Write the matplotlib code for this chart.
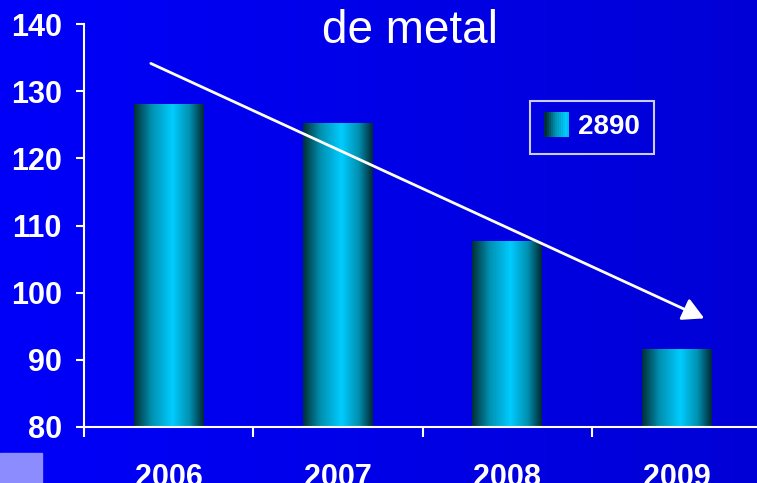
import numpy as np
import matplotlib.pyplot as plt
from matplotlib.patches import Rectangle
from matplotlib.legend_handler import HandlerPatch
from matplotlib.colors import LinearSegmentedColormap

plt.rcParams['font.family'] = ['Liberation Sans', 'DejaVu Sans']

# === Data ===
years = ["2006", "2007", "2008", "2009"]
values = [128.0, 125.2, 107.6, 91.6]
series_name = "2890"
title = "de metal"

# gradient used for the cylinder-like bars
bar_cmap = LinearSegmentedColormap.from_list(
    "cyl", [(0.0, "#003038"), (0.25, "#0090b0"), (0.55, "#00ccff"),
            (0.8, "#0090b0"), (1.0, "#002a35")])

fig = plt.figure(figsize=(7.57, 4.83), dpi=100)

# blue background gradient
bg = fig.add_axes([0, 0, 1, 1], zorder=-10)
bg.imshow(np.linspace(0, 1, 256).reshape(1, -1), aspect='auto', extent=(0, 1, 0, 1),
          cmap=LinearSegmentedColormap.from_list("bg", ["#0000fa", "#0000d6"]))
bg.axis('off')
# little pale tile in the corner
bg.add_patch(Rectangle((0, 0), 42 / 757, 30 / 483, color="#8c8cff", transform=bg.transAxes))

ax = fig.add_axes([84 / 757, 56 / 483, 677 / 757, 403 / 483])
ax.patch.set_alpha(0)

x = np.arange(len(years))
bars = ax.bar(x, [v - 80 for v in values], bottom=80, width=0.41, color="none")
grad = np.linspace(0, 1, 200).reshape(1, -1)
for b in bars:
    x0, y0 = b.get_x(), b.get_y()
    ax.imshow(grad, cmap=bar_cmap, aspect='auto', zorder=2,
              extent=(x0, x0 + b.get_width(), y0, y0 + b.get_height()))

ax.set_xlim(-0.5, 3.5)
ax.set_ylim(80, 140)
ax.set_yticks(range(80, 141, 10))

ax.set_xticks(x)
ax.set_xticklabels(years)
ax.set_xticks(np.arange(-0.5, 4, 1), minor=True)
ax.tick_params(axis='x', which='major', length=0, pad=26)
ax.tick_params(axis='x', which='minor', length=7, width=1.5, color='white', direction='out')
ax.tick_params(axis='y', length=6, width=1.5, color='white', pad=10)
for lab in ax.get_xticklabels() + ax.get_yticklabels():
    lab.set_color('white')
    lab.set_fontweight('bold')
    lab.set_fontsize(22)

for s in ['top', 'right']:
    ax.spines[s].set_visible(False)
for s in ['left', 'bottom']:
    ax.spines[s].set_color('white')
    ax.spines[s].set_linewidth(1.5)

# trend arrow
ax.annotate("", xy=(3.18, 96.0), xytext=(-0.12, 134.3),
            arrowprops=dict(arrowstyle="-|>,head_length=1.3,head_width=0.7",
                            color='white', lw=2), zorder=5)

fig.text(410 / 757, 1 - 31 / 483, title, color='white', fontsize=33,
         ha='center', va='center')


class GradientHandler(HandlerPatch):
    def create_artists(self, legend, orig_handle, xdescent, ydescent, width, height, fontsize, trans):
        n = 12
        w = 18.0
        h = 18.0
        x0 = -xdescent + width - w
        y0 = -ydescent + (height - h) / 2
        arts = []
        for i in range(n):
            r = Rectangle((x0 + i * w / n, y0), w / n, h,
                          facecolor=bar_cmap(i / (n - 1) * 0.6), edgecolor='none', transform=trans)
            arts.append(r)
        return arts


h = Rectangle((0, 0), 1, 1)
leg = ax.legend([h], [series_name], handler_map={Rectangle: GradientHandler()},
                loc='upper left', bbox_to_anchor=(446 / 677, 1 - 77 / 403),
                frameon=True, fancybox=False, borderpad=0.48, handlelength=0.94,
                handletextpad=0.32, borderaxespad=0, prop={'size': 20, 'weight': 'bold'})
leg.get_frame().set_facecolor('none')
leg.get_frame().set_edgecolor('white')
leg.get_frame().set_linewidth(1.5)
for t in leg.get_texts():
    t.set_color('white')

plt.savefig("out.png", dpi=100)
